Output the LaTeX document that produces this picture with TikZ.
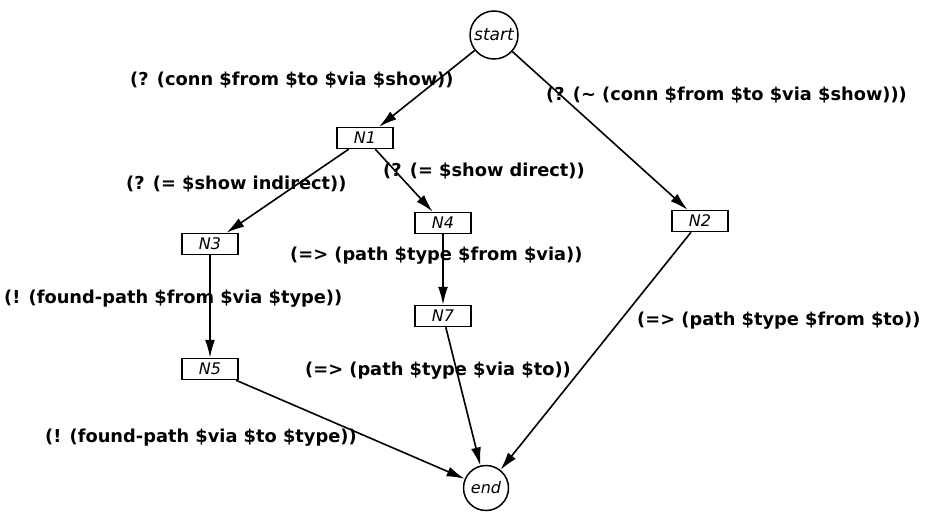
\documentclass[tikz,border=0pt]{standalone}
\usepackage{fontspec}
\setmainfont{DejaVu Sans}
\usetikzlibrary{arrows.meta}
\tikzset{
  state/.style={draw,circle,line width=1.5pt,minimum size=48pt,inner sep=0pt,font=\fontsize{16}{18}\selectfont\itshape},
  task/.style={draw,rectangle,line width=1.5pt,minimum width=56pt,minimum height=21pt,inner sep=0pt,font=\fontsize{16}{18}\selectfont\itshape},
  rule/.style={anchor=west,inner sep=0pt,font=\fontsize{17.8}{20}\selectfont\bfseries},
  link/.style={line width=1.6pt,-{Latex[length=18pt,width=10pt]}}
}
\newcommand{\dol}{\$}
\begin{document}
\begin{tikzpicture}[x=1pt,y=-1pt]
  \useasboundingbox (0,0) rectangle (931,517);

  % states and tasks
  \node[state,font=\fontsize{17}{19}\selectfont\itshape] (start) at (494,35) {start};
  \node[task] (n1) at (365,138) {N1};
  \node[task] (n2) at (700,221) {N2};
  \node[task] (n3) at (210,244) {N3};
  \node[task] (n4) at (443,223) {N4};
  \node[task] (n7) at (443,316) {N7};
  \node[task] (n5) at (210,369) {N5};
  \node[state,minimum size=45pt] (end) at (486,488) {end};

  % transitions
  \draw[link] (start) -- (n1);
  \draw[link] (start) -- (n2);
  \draw[link] (n1) -- (n3);
  \draw[link] (n1) -- (n4);
  \draw[link] (n3) -- (n5);
  \draw[link] (n4) -- (n7);
  \draw[link] (n7) -- (end);
  \draw[link] (n2) -- (end);
  \draw[link] (n5) -- (end);

  % rule labels
  \node[rule] (r1) at (130,80) {(? (conn \dol from \dol to \dol via \dol show))};
  \node[rule] (r2) at (546,95) {(? (\char`\~\ (conn \dol from \dol to \dol via \dol show)))};
  \node[rule] (r3) at (126,184) {(? (= \dol show indirect))};
  \node[rule] (r4) at (383,171) {(? (= \dol show direct))};
  \node[rule] (r5) at (290,256) {(=> (path \dol type \dol from \dol via))};
  \node[rule] (r6) at (4,299) {(! (found-path \dol from \dol via \dol type))};
  \node[rule] (r7) at (637,321) {(=> (path \dol type \dol from \dol to))};
  \node[rule] (r8) at (305,371) {(=> (path \dol type \dol via \dol to))};
  \node[rule] (r9) at (45,438) {(! (found-path \dol via \dol to \dol type))};
\end{tikzpicture}
\end{document}
